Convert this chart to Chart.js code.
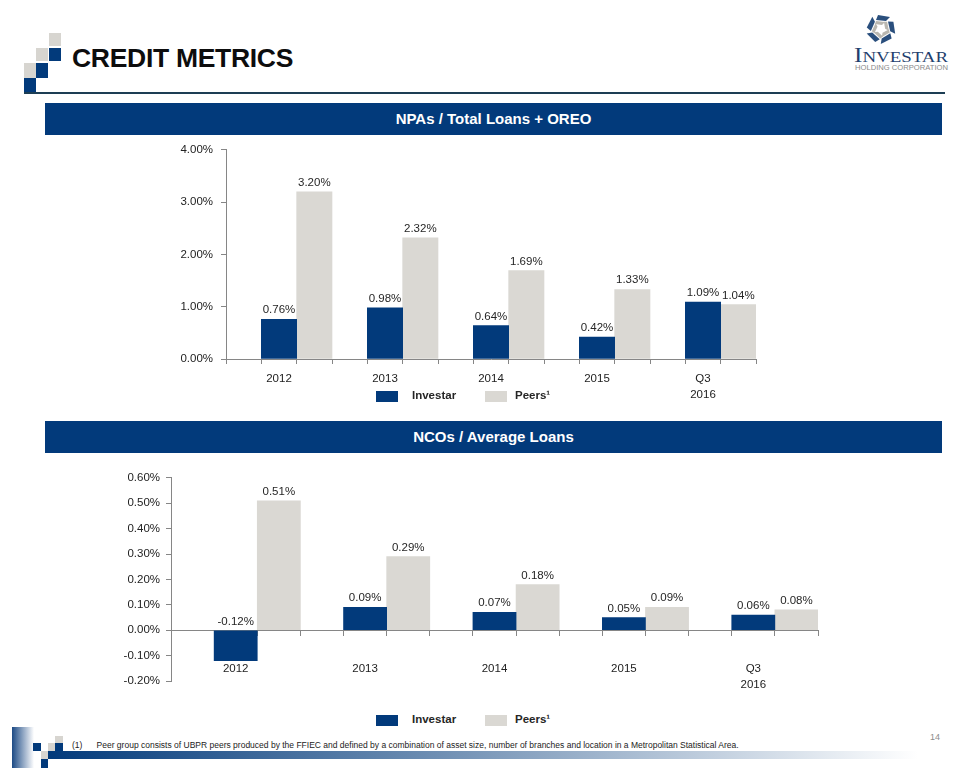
<!DOCTYPE html>
<html>
<head>
<meta charset="utf-8">
<script src="https://cdn.jsdelivr.net/npm/chart.js@4.4.0/dist/chart.umd.min.js"></script>
<style>
  body { margin: 0; width: 960px; height: 768px; background: #fff; position: relative; overflow: hidden; font-family: "Liberation Sans", Arial, sans-serif; }
  .abs { position: absolute; }
  .sq { position: absolute; width: 12px; height: 15px; }
  .navy { background: #023a7b; }
  .grey { background: #d7d5d0; }
  #title { left: 72px; top: 43px; font-size: 26.5px; font-weight: bold; color: #0d0d0d; letter-spacing: -0.3px; }
  #rule { left: 24px; top: 92px; width: 921px; height: 2px; background: #1d3e54; }
  .band { position: absolute; left: 45px; width: 897px; height: 32px; background: #023a7b; color: #fff; font-weight: bold; font-size: 15px; text-align: center; line-height: 32px; }
  .legend { position: absolute; font-size: 11.5px; font-weight: bold; color: #262626; }
  .legend span.sw { position: absolute; width: 22px; height: 11px; }
  .legend span.tx { position: absolute; white-space: nowrap; }
  #foot { left: 72px; top: 740px; font-size: 8.5px; color: #222; white-space: nowrap; }
  #page { left: 930px; top: 732px; font-size: 9px; color: #8c8c8c; }
</style>
</head>
<body>
<!-- header decoration -->
<div class="sq grey" style="left:49px;top:33px;height:13px"></div>
<div class="sq navy" style="left:49px;top:48px;height:13px"></div>
<div class="sq grey" style="left:36px;top:48px;height:13px"></div>
<div class="sq navy" style="left:36px;top:63px"></div>
<div class="sq grey" style="left:24px;top:63px"></div>
<div class="sq navy" style="left:24px;top:78px"></div>
<div id="title" class="abs">CREDIT METRICS</div>
<div id="rule" class="abs"></div>

<!-- logo -->
<svg class="abs" style="left:850px;top:10px" width="105" height="65" viewBox="0 0 105 65">
  <g transform="translate(31,19)">
    <g id="blade">
      <path d="M-3,-14 L9,-12 L5,-8 L-5,-9 Z" fill="#2a4f7d"/>
      <path d="M-5,-8 L4,-7 L1,-4 L-6,-5 Z" fill="#b9b7b0"/>
    </g>
    <use href="#blade" transform="rotate(72)"/>
    <use href="#blade" transform="rotate(144)"/>
    <use href="#blade" transform="rotate(216)"/>
    <use href="#blade" transform="rotate(288)"/>
  </g>
  <text x="4" y="52" font-family="Liberation Serif, serif" font-size="20" fill="#1f3f6e" textLength="94" lengthAdjust="spacingAndGlyphs">I<tspan font-size="15">NVESTAR</tspan></text>
  <text x="5" y="60" font-family="Liberation Sans, sans-serif" font-size="7.5" fill="#8a8a8a" textLength="93" lengthAdjust="spacingAndGlyphs">HOLDING CORPORATION</text>
</svg>

<div class="band" style="top:103px">NPAs / Total Loans + OREO</div>
<canvas id="npaChart" class="abs" style="left:150px;top:135px" width="640" height="270"></canvas>
<div class="legend" id="npaLegend" style="left:376px;top:390px"></div>

<div class="band" style="top:421px">NCOs / Average Loans</div>
<canvas id="ncoChart" class="abs" style="left:100px;top:465px" width="740" height="235"></canvas>
<div class="legend" id="ncoLegend" style="left:376px;top:714px"></div>

<!-- footer -->
<div class="abs" style="left:12px;top:727px;width:22px;height:41px;background:linear-gradient(to right,#1c4a85,#ffffff)"></div>
<div class="abs" style="left:48px;top:751px;width:870px;height:8px;background:linear-gradient(to right,#023a7b,#6f8fb3 45%,#ffffff)"></div>
<div class="sq navy" style="left:33px;top:743px;width:8px;height:8px"></div>
<div class="sq grey" style="left:48px;top:743px;width:7px;height:8px"></div>
<div class="sq navy" style="left:55px;top:743px;width:8px;height:8px"></div>
<div class="sq grey" style="left:55px;top:736px;width:8px;height:7px"></div>
<div class="sq grey" style="left:41px;top:751px;width:7px;height:8px"></div>
<div class="sq navy" style="left:41px;top:759px;width:7px;height:9px"></div>
<div id="foot" class="abs">(1)&nbsp;&nbsp;&nbsp;&nbsp;&nbsp;&nbsp;Peer group consists of UBPR peers produced by the FFIEC and defined by a combination of asset size, number of branches and location in a Metropolitan Statistical Area.</div>
<div id="page" class="abs">14</div>

<script>
const categories = ['2012', '2013', '2014', '2015', ['Q3', '2016']];
const seriesNames = ['Investar', 'Peers\u00b9'];
const seriesColors = ['#023a7b', '#dad8d3'];

// NPAs / Total Loans + OREO (%)
const npaInvestar = [0.76, 0.98, 0.64, 0.42, 1.09];
const npaPeers = [3.20, 2.32, 1.69, 1.33, 1.04];
const npaTicks = [0, 1, 2, 3, 4];

// NCOs / Average Loans (%)
const ncoInvestar = [-0.12, 0.09, 0.07, 0.05, 0.06];
const ncoPeers = [0.51, 0.29, 0.18, 0.09, 0.08];
const ncoTicks = [-0.2, -0.1, 0, 0.1, 0.2, 0.3, 0.4, 0.5, 0.6];

const AXIS = '#868686';
const TXT = '#222';
const X_FONT = { family: '"Liberation Sans", Arial, sans-serif', size: 11.5, lineHeight: 1.45 };
const Y_FONT = { family: '"Liberation Sans", Arial, sans-serif', size: 11.5 };

// each category gets three slots: empty gap, Investar, Peers
function slotLabels() {
    return categories.flatMap(c => ['', c, '']);
}
function slotted(values, slot) {
    const out = new Array(categories.length * 3).fill(null);
    values.forEach((v, i) => { out[i * 3 + slot] = v; });
    return out;
}

const valueLabels = {
    id: 'valueLabels',
    afterDatasetsDraw(chart) {
        const ctx = chart.ctx;
        ctx.save();
        ctx.font = '11.5px "Liberation Sans", Arial, sans-serif';
        ctx.fillStyle = '#262626';
        ctx.textAlign = 'center';
        ctx.textBaseline = 'alphabetic';
        chart.data.datasets.forEach((ds, di) => {
            chart.getDatasetMeta(di).data.forEach((bar, i) => {
                const v = ds.data[i];
                if (v === null) return;
                ctx.fillText(v.toFixed(2) + '%', bar.x, Math.min(bar.y, bar.base) - 6);
            });
        });
        ctx.restore();
    }
};

function buildLegend(id) {
    const el = document.getElementById(id);
    seriesNames.forEach((name, i) => {
        const sw = document.createElement('span');
        sw.className = 'sw';
        sw.style.left = (i * 109) + 'px';
        sw.style.top = '1px';
        sw.style.background = seriesColors[i];
        const tx = document.createElement('span');
        tx.className = 'tx';
        tx.style.left = (i * 103 + 36) + 'px';
        tx.style.top = '-1px';
        tx.textContent = name;
        el.appendChild(sw);
        el.appendChild(tx);
    });
}

function makeChart(canvasId, investar, peers, ticks, cfg) {
    return new Chart(document.getElementById(canvasId), {
        type: 'bar',
        data: {
            labels: slotLabels(),
            datasets: [
                { label: seriesNames[0], data: slotted(investar, 1), backgroundColor: seriesColors[0] },
                { label: seriesNames[1], data: slotted(peers, 2), backgroundColor: seriesColors[1] }
            ]
        },
        options: {
            responsive: false,
            animation: false,
            events: [],
            layout: { autoPadding: false, padding: cfg.padding },
            datasets: { bar: { grouped: false, barPercentage: 1, categoryPercentage: 1 } },
            plugins: { legend: { display: false }, tooltip: { enabled: false } },
            scales: {
                x: {
                    type: 'category',
                    position: cfg.xPosition,
                    offset: true,
                    grid: { display: true, drawOnChartArea: false, offset: true, tickLength: 5, color: AXIS },
                    border: { display: true, color: AXIS },
                    ticks: { autoSkip: false, maxRotation: 0, padding: cfg.xPad, color: TXT, font: X_FONT },
                    afterFit: s => { s.height = cfg.xHeight; }
                },
                y: {
                    min: ticks[0],
                    max: ticks[ticks.length - 1],
                    afterBuildTicks: s => { s.ticks = ticks.map(v => ({ value: v })); },
                    grid: { display: true, drawOnChartArea: false, tickLength: 5, color: AXIS },
                    border: { display: true, color: AXIS },
                    ticks: { padding: cfg.yPad, color: TXT, font: Y_FONT, callback: v => v.toFixed(2) + '%' },
                    afterFit: s => { s.width = cfg.yWidth; }
                }
            }
        },
        plugins: [valueLabels]
    });
}

makeChart('npaChart', npaInvestar, npaPeers, npaTicks, {
    padding: { left: 0, right: 34, top: 12, bottom: 0 },
    xPosition: 'bottom', xPad: 6, xHeight: 46, yPad: 8, yWidth: 76
});
makeChart('ncoChart', ncoInvestar, ncoPeers, ncoTicks, {
    padding: { left: 0, right: 22, top: 12, bottom: 19 },
    xPosition: { y: 0 }, xPad: 25, xHeight: 0, yPad: 6, yWidth: 71
});

buildLegend('npaLegend');
buildLegend('ncoLegend');
</script>
</body>
</html>
